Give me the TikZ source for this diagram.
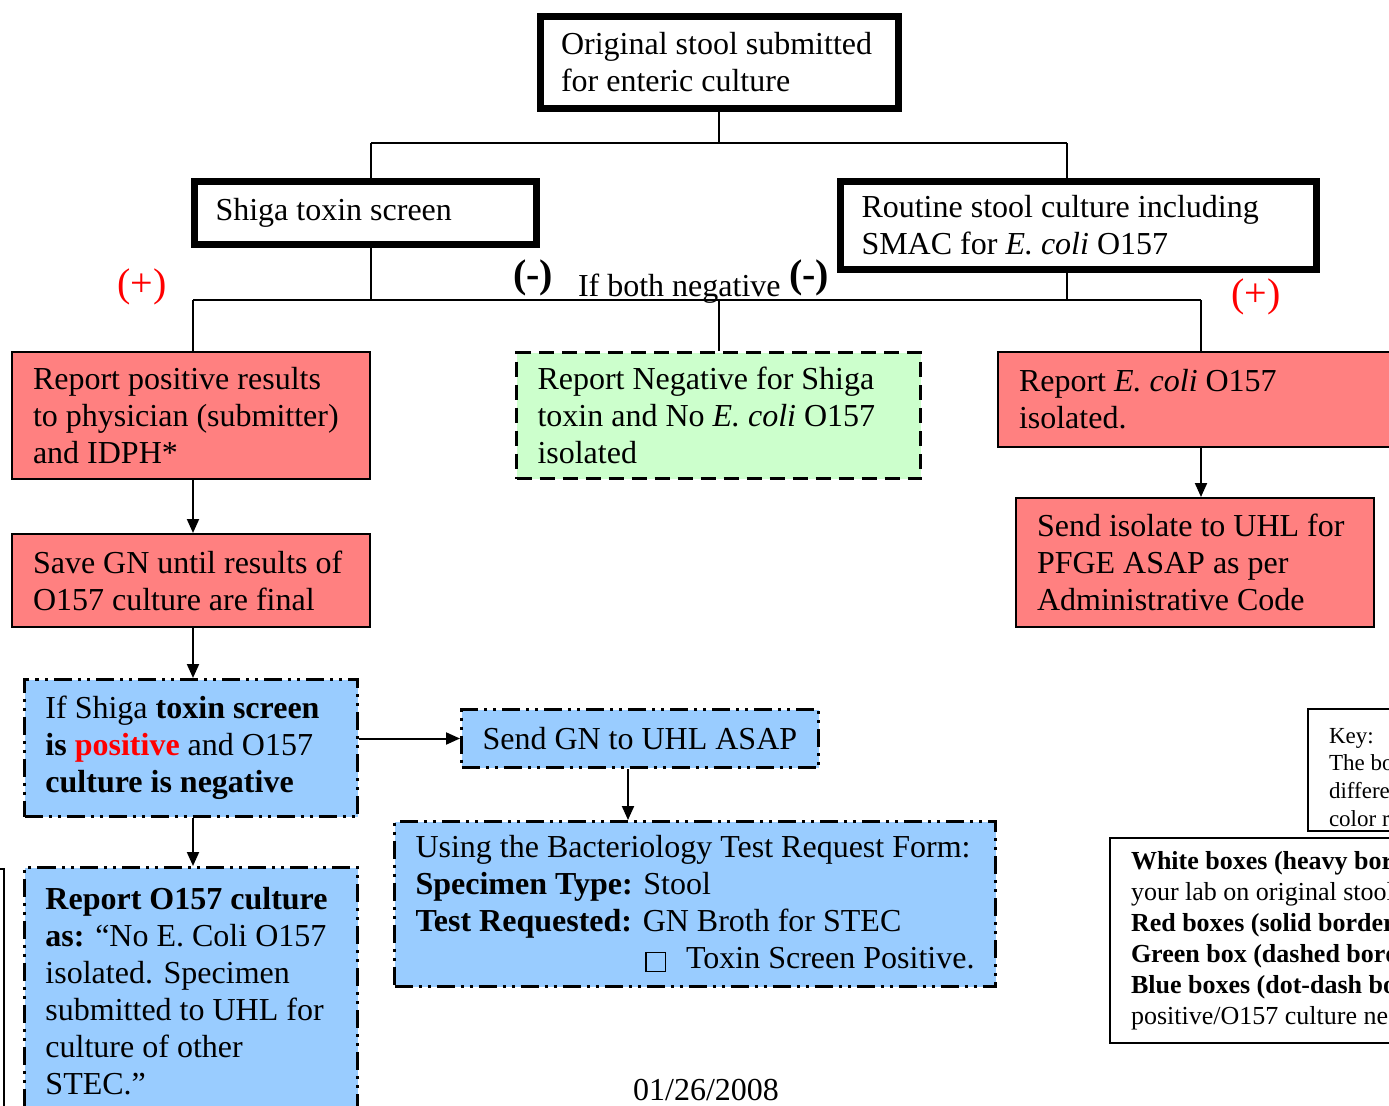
\documentclass[tikz,border=0pt]{standalone}
\usepackage{fontspec}
\setmainfont{Liberation Serif}
\usepackage{xcolor}
\usepackage{tikz}
\usetikzlibrary{arrows.meta}
\definecolor{redfill}{HTML}{FF8080}
\definecolor{greenfill}{HTML}{CCFFCC}
\definecolor{bluefill}{HTML}{99CCFF}
\tikzset{box/.style={rectangle, align=flush left, inner xsep=10.5pt, inner ysep=0pt, font=\fontsize{16}{18.5}\selectfont}}
\tikzset{labbox/.style={box, draw=black, line width=3.5pt, fill=white}}
\tikzset{posbox/.style={box, draw=black, line width=1pt, fill=redfill}}
\tikzset{negbox/.style={box, draw=black, line width=1.5pt, fill=greenfill, dash pattern=on 7.5pt off 4pt}}
\tikzset{uhlbox/.style={box, draw=black, line width=1.5pt, fill=bluefill,
  dash pattern=on 9pt off 3pt on 1.5pt off 3pt on 1.5pt off 3pt}}
\tikzset{keybox/.style={box, draw=black, line width=1pt, fill=white}}
\tikzset{sign/.style={inner sep=0pt, font=\fontsize{20}{24}\selectfont}}
\newcommand{\chkbox}{{\setlength{\fboxsep}{0pt}\setlength{\fboxrule}{0.7pt}\raisebox{-1pt}{\fbox{\rule{0pt}{9pt}\hspace{9pt}}}}}

\begin{document}
\begin{tikzpicture}[x=0.5pt, y=-0.5pt, line width=1pt, >={Triangle[length=7pt,width=6pt]}]
		\useasboundingbox (0,0) rectangle (1389,1105);
		\clip (0,0) rectangle (1389,1105);

		\node[labbox, minimum width=179pt, minimum height=46pt, text width=158pt] at (719,62) (orig) {Original stool submitted\\for enteric culture};
		\node[labbox, minimum width=171pt, minimum height=31.5pt, text width=150pt] at (365.5,213) (shiga) {Shiga toxin screen};
		\node[labbox, minimum width=238pt, minimum height=44pt, text width=217pt] at (1078.5,225.5) (routine) {Routine stool culture including\\SMAC for \textit{E. coli} O157};

		\node[posbox, minimum width=179pt, minimum height=63.5pt, text width=158pt] at (191,415.5) (report-pos) {Report positive results\\to physician (submitter)\\and IDPH*};
		\node[negbox, minimum width=202pt, minimum height=63pt, text width=181pt] at (718.5,415.5) (report-neg) {Report Negative for Shiga\\toxin and No \textit{E. coli} O157\\isolated};
		\node[posbox, minimum width=203pt, minimum height=47.5pt, text width=182pt] at (1201,399.5) (report-o157) {Report \textit{E. coli} O157\\isolated.};
		\node[posbox, minimum width=179pt, minimum height=46.5pt, text width=158pt] at (191,580.5) (save-gn) {Save GN until results of\\O157 culture are final};
		\node[posbox, minimum width=179pt, minimum height=64.5pt, text width=158pt] at (1195,562.5) (send-iso) {Send isolate to UHL for\\PFGE ASAP as per\\Administrative Code};

		\node[uhlbox, minimum width=166.5pt, minimum height=68.5pt, text width=145.5pt] at (191,748) (if-pos) {If Shiga \textbf{toxin screen}\\\textbf{is \textcolor{red}{positive}} and O157\\\textbf{culture is negative}};
		\node[uhlbox, minimum width=178.5pt, minimum height=29pt, text width=157.5pt] at (640,738.5) (send-gn) {Send GN to UHL ASAP};
		\node[uhlbox, minimum width=300.5pt, minimum height=82.5pt, text width=279.5pt] at (695,904) (form) {Using the Bacteriology Test Request Form:\\\textbf{Specimen Type:} Stool\\\textbf{Test Requested:} GN Broth for STEC\\\hspace*{\fill}\chkbox\hspace{10pt}Toxin Screen Positive.};
		\node[uhlbox, minimum width=166.5pt, minimum height=123.5pt, text width=145.5pt] at (191,991) (report-none) {\textbf{Report O157 culture}\\\textbf{as:} “No E. Coli O157\\isolated. Specimen\\submitted to UHL for\\culture of other\\STEC.”};

		\node[keybox, minimum width=246pt, minimum height=61pt, text width=225pt, font=\fontsize{11.5}{13.85}\selectfont] at (1554,770) (key) {\rule{0pt}{17pt}Key:\\The boxes have\\different borders in case\\color reproduction is poor.};
		\node[keybox, minimum width=445pt, minimum height=102.5pt, text width=424pt, font=\fontsize{13}{15.5}\selectfont] at (1555,940.5) (key-list) {\textbf{White boxes (heavy border):} Testing in\\your lab on original stool.\\\textbf{Red boxes (solid border):} Positive results.\\\textbf{Green box (dashed border):} Negative results.\\\textbf{Blue boxes (dot-dash border):} Toxin screen\\positive/O157 culture negative.};
		\node[keybox, minimum width=152pt, minimum height=215.5pt] at (-148,1084.5) (edge-box) {};

		\node[sign, text=red] at (142,287) (pos-left) {(+)};
		\node[sign, font=\fontsize{20}{24}\selectfont\bfseries] at (533,278) (neg-left) {(-)};
		\node[anchor=base west, inner sep=0pt, font=\fontsize{16}{18.5}\selectfont] at (577,296) (both-neg) {If both negative};
		\node[sign, font=\fontsize{20}{24}\selectfont\bfseries] at (809,278) (neg-right) {(-)};
		\node[sign, text=red] at (1256,297) (pos-right) {(+)};
		\node[font=\fontsize{16}{18.5}\selectfont, inner sep=0pt] at (706,1090) (date) {01/26/2008};

		\coordinate (bus-top-l) at (371,143);
		\coordinate (bus-top-r) at (1067,143);
		\coordinate (bus-l) at (193,300);
		\coordinate (bus-r) at (1201,300);

		\draw (orig.south) -- (orig.south |- bus-top-l);
		\draw (bus-top-l) -- (bus-top-r);
		\draw (bus-top-l) -- (bus-top-l |- shiga.north);
		\draw (bus-top-r) -- (bus-top-r |- routine.north);
		\draw (bus-top-l |- shiga.south) -- (bus-top-l |- bus-l);
		\draw (bus-top-r |- routine.south) -- (bus-top-r |- bus-l);
		\draw (bus-l) -- (bus-r);
		\draw (bus-l) -- (bus-l |- report-pos.north);
		\draw (report-neg.north |- bus-l) -- (report-neg.north);
		\draw (bus-r) -- (bus-r |- report-o157.north);

		\draw[->] (bus-l |- report-pos.south) -- (bus-l |- save-gn.north);
		\draw[->] (bus-l |- save-gn.south) -- (bus-l |- if-pos.north);
		\draw[->] (if-pos.east |- send-gn.west) -- (send-gn.west);
		\draw[->] (bus-l |- if-pos.south) -- (bus-l |- report-none.north);
		\draw[->] ([xshift=-6pt]send-gn.south) -- ([xshift=-6pt]send-gn.south |- form.north);
		\draw[->] (report-o157.south) -- (report-o157.south |- send-iso.north);
\end{tikzpicture}
\end{document}
